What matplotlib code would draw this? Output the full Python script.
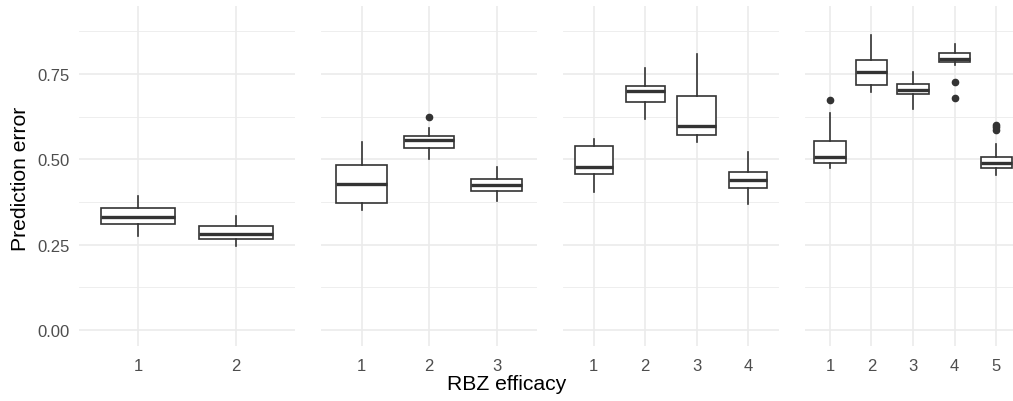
import matplotlib
matplotlib.use("Agg")
import matplotlib.pyplot as plt
from matplotlib.ticker import MultipleLocator, FormatStrFormatter

plt.rcParams['font.family'] = ['Liberation Sans', 'DejaVu Sans']

# one facet per number of efficacy levels
tick_labels = [["1", "2"], ["1", "2", "3"], ["1", "2", "3", "4"], ["1", "2", "3", "4", "5"]]

medians = [[0.330, 0.280],
           [0.427, 0.556, 0.425],
           [0.477, 0.700, 0.598, 0.440],
           [0.507, 0.756, 0.703, 0.794, 0.489]]
q1 = [[0.309, 0.266],
      [0.371, 0.532, 0.407],
      [0.457, 0.669, 0.570, 0.417],
      [0.489, 0.718, 0.691, 0.785, 0.473]]
q3 = [[0.357, 0.304],
      [0.483, 0.569, 0.442],
      [0.540, 0.714, 0.686, 0.462],
      [0.553, 0.790, 0.721, 0.812, 0.508]]
whis_lo = [[0.275, 0.247],
           [0.352, 0.500, 0.379],
           [0.403, 0.617, 0.552, 0.370],
           [0.475, 0.698, 0.648, 0.777, 0.454]]
whis_hi = [[0.392, 0.333],
           [0.550, 0.592, 0.476],
           [0.558, 0.768, 0.809, 0.522],
           [0.635, 0.864, 0.757, 0.839, 0.546]]
outliers = [[[], []],
            [[], [0.625], []],
            [[], [], [], []],
            [[0.674], [], [], [0.727, 0.679], [0.601, 0.594, 0.587]]]

W, H = 1013, 402
fig = plt.figure(figsize=(W / 100, H / 100), dpi=100)

grid_col = "#EBEBEB"
line_col = "#333333"
panel_left = [79, 321, 563, 805]
panel_w = 216
top, bottom = 7, 347

for i in range(4):
    ax = fig.add_axes([panel_left[i] / W, 1 - bottom / H, panel_w / W, (bottom - top) / H])
    n = len(medians[i])
    stats = []
    for j in range(n):
        stats.append(dict(med=medians[i][j], q1=q1[i][j], q3=q3[i][j],
                          whislo=whis_lo[i][j], whishi=whis_hi[i][j],
                          fliers=outliers[i][j]))
    pos = list(range(1, n + 1))
    ax.bxp(stats, positions=pos, widths=0.75, patch_artist=True, showcaps=False,
           boxprops=dict(facecolor="white", edgecolor=line_col, linewidth=1.2),
           whiskerprops=dict(color=line_col, linewidth=1.2),
           medianprops=dict(color=line_col, linewidth=2.4, solid_capstyle="butt"),
           flierprops=dict(marker="o", markerfacecolor=line_col, markeredgecolor=line_col,
                           markersize=4.5))
    ax.set_xlim(0.4, n + 0.6)
    ax.set_ylim(-0.047, 0.949)
    ax.set_xticks(pos)
    ax.set_xticklabels(tick_labels[i])
    ax.yaxis.set_major_locator(MultipleLocator(0.25))
    ax.yaxis.set_minor_locator(MultipleLocator(0.125))
    ax.yaxis.set_major_formatter(FormatStrFormatter("%.2f"))
    ax.grid(True, which="major", color=grid_col, linewidth=1.2)
    ax.grid(True, which="minor", axis="y", color=grid_col, linewidth=0.6)
    ax.set_axisbelow(True)
    for s in ax.spines.values():
        s.set_visible(False)
    ax.tick_params(which="both", length=0, labelsize=12, colors="#4D4D4D")
    ax.tick_params(axis="x", pad=9)
    ax.tick_params(axis="y", pad=7)
    if i > 0:
        ax.tick_params(axis="y", labelleft=False)

fig.text(507 / W, 1 - 385 / H, "RBZ efficacy", ha="center", va="center", fontsize=15.2)
fig.text(20 / W, 1 - 179 / H, "Prediction error", ha="center", va="center",
         rotation=90, fontsize=15.2)

fig.savefig("out.png", dpi=100, facecolor="white")
